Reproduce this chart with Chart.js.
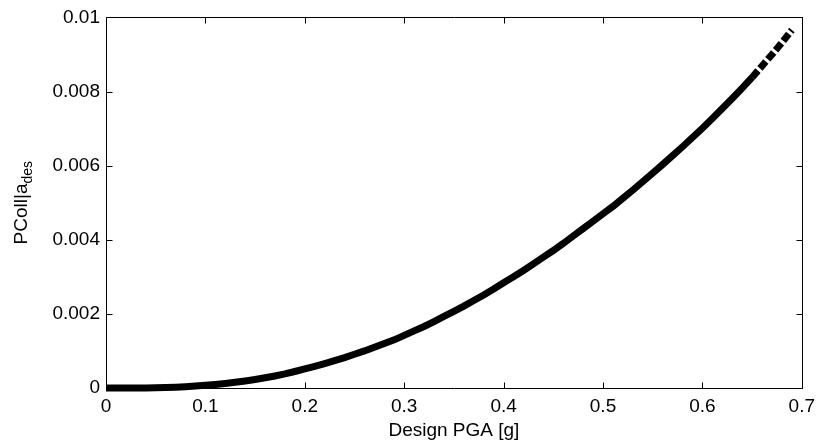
<!DOCTYPE html>
<html>
<head>
<meta charset="utf-8">
<script src="https://cdn.jsdelivr.net/npm/chart.js@4.4.0/dist/chart.umd.min.js"></script>
<style>
  html, body { margin: 0; padding: 0; background: #fff; }
  #wrap { width: 822px; height: 445px; }
</style>
</head>
<body>
<div id="wrap"><canvas id="myChart" width="822" height="445"></canvas></div>
<script>
// Design PGA [g] and collapse probability at each design level
const pga = [
  0.00, 0.01, 0.02, 0.03, 0.04, 0.05, 0.06, 0.07, 0.08, 0.09,
  0.10, 0.11, 0.12, 0.13, 0.14, 0.15, 0.16, 0.17, 0.18, 0.19,
  0.20, 0.21, 0.22, 0.23, 0.24, 0.25, 0.26, 0.27, 0.28, 0.29,
  0.30, 0.31, 0.32, 0.33, 0.34, 0.35, 0.36, 0.37, 0.38, 0.39,
  0.40, 0.41, 0.42, 0.43, 0.44, 0.45, 0.46, 0.47, 0.48, 0.49,
  0.50, 0.51, 0.52, 0.53, 0.54, 0.55, 0.56, 0.57, 0.58, 0.59,
  0.60, 0.61, 0.62, 0.63, 0.64, 0.65, 0.66, 0.67, 0.68, 0.69
];
const pcoll = [
  0, 0, 0, 0.000001, 0.000003, 0.000008, 0.000014, 0.000023, 0.000036, 0.000052,
  0.000072, 0.000095, 0.000122, 0.000154, 0.00019, 0.00023, 0.000275, 0.000325, 0.00038, 0.000445,
  0.000515, 0.000585, 0.00066, 0.00074, 0.00082, 0.00091, 0.001, 0.0011, 0.0012, 0.0013,
  0.00142, 0.00154, 0.00166, 0.00179, 0.00193, 0.00207, 0.00221, 0.00236, 0.00251, 0.00267,
  0.00284, 0.003, 0.00317, 0.00335, 0.00353, 0.00371, 0.0039, 0.0041, 0.0043, 0.0045,
  0.0047, 0.0049, 0.00512, 0.00534, 0.00557, 0.0058, 0.00603, 0.00627, 0.00651, 0.00676,
  0.00701, 0.00727, 0.00754, 0.00781, 0.00809, 0.00838, 0.00869, 0.009, 0.00932, 0.00966
];

const xTicks = [0, 0.1, 0.2, 0.3, 0.4, 0.5, 0.6, 0.7];
const xTickLabels = ['0', '0.1', '0.2', '0.3', '0.4', '0.5', '0.6', '0.7'];
const yTicks = [0, 0.002, 0.004, 0.006, 0.008, 0.01];
const yTickLabels = ['0', '0.002', '0.004', '0.006', '0.008', '0.01'];

const xTitle = 'Design PGA [g]';
const yTitle = 'PColl|a';
const yTitleSub = 'des';

// beyond this PGA the markers thin out into a dashed trace
const dashFrom = 0.645;

const FONT = '"Liberation Sans", Arial, sans-serif';
const TICK_LEN = 6;

// box around the axes, inward ticks on all four sides, axis titles
const framePlugin = {
  id: 'frame',
  afterDraw(chart) {
    const ctx = chart.ctx;
    const a = chart.chartArea;
    const xs = chart.scales.x;
    const ys = chart.scales.y;
    const L = Math.round(a.left) + 0.5;
    const R = Math.round(a.right) + 0.5;
    const T = Math.round(a.top) + 0.5;
    const B = Math.round(a.bottom) + 0.5;

    ctx.save();
    ctx.strokeStyle = '#000';
    ctx.lineWidth = 1;
    ctx.beginPath();
    ctx.rect(L, T, R - L, B - T);

    xTicks.forEach(v => {
      const px = Math.round(xs.getPixelForValue(v)) + 0.5;
      ctx.moveTo(px, B); ctx.lineTo(px, B - TICK_LEN);
      ctx.moveTo(px, T); ctx.lineTo(px, T + TICK_LEN);
    });
    yTicks.forEach(v => {
      const py = Math.round(ys.getPixelForValue(v)) + 0.5;
      ctx.moveTo(L, py); ctx.lineTo(L + TICK_LEN, py);
      ctx.moveTo(R, py); ctx.lineTo(R - TICK_LEN, py);
    });
    ctx.stroke();

    ctx.fillStyle = '#000';
    ctx.textAlign = 'center';
    ctx.textBaseline = 'alphabetic';
    ctx.font = '19px ' + FONT;
    ctx.fillText(xTitle, (a.left + a.right) / 2, 436);

    // rotated y title with subscript
    ctx.translate(27, (a.top + a.bottom) / 2);
    ctx.rotate(-Math.PI / 2);
    ctx.font = '19px ' + FONT;
    const w1 = ctx.measureText(yTitle).width;
    ctx.font = '14px ' + FONT;
    const w2 = ctx.measureText(yTitleSub).width;
    const start = -(w1 + w2) / 2;
    ctx.textAlign = 'left';
    ctx.font = '19px ' + FONT;
    ctx.fillText(yTitle, start, 0);
    ctx.font = '14px ' + FONT;
    ctx.fillText(yTitleSub, start + w1, 5);
    ctx.restore();
  }
};

const ctx = document.getElementById('myChart');

new Chart(ctx, {
  type: 'line',
  data: {
    datasets: [{
      data: pga.map((x, i) => ({ x: x, y: pcoll[i] })),
      borderColor: '#000',
      backgroundColor: '#000',
      borderWidth: 7,
      pointRadius: 0,
      tension: 0,
      clip: false,
      segment: {
        borderDash: c => c.p0.parsed.x >= dashFrom ? [9, 3] : undefined
      }
    }]
  },
  options: {
    responsive: false,
    animation: false,
    devicePixelRatio: 1,
    layout: { padding: { left: 0, right: 13, top: 16, bottom: 0 } },
    plugins: {
      legend: { display: false },
      tooltip: { enabled: false }
    },
    scales: {
      x: {
        type: 'linear',
        min: 0,
        max: 0.7,
        grid: { display: false, drawTicks: false },
        border: { display: false },
        afterBuildTicks: s => { s.ticks = xTicks.map(v => ({ value: v })); },
        afterFit: s => { s.height = 57; },
        ticks: {
          padding: 7,
          maxRotation: 0,
          color: '#000',
          font: { family: FONT, size: 19 },
          callback: (v, i) => xTickLabels[i]
        }
      },
      y: {
        type: 'linear',
        min: 0,
        max: 0.01,
        grid: { display: false, drawTicks: false },
        border: { display: false },
        afterBuildTicks: s => { s.ticks = yTicks.map(v => ({ value: v })); },
        afterFit: s => { s.width = 106; },
        ticks: {
          padding: 6,
          color: '#000',
          font: { family: FONT, size: 19 },
          callback: (v, i) => yTickLabels[i]
        }
      }
    }
  },
  plugins: [framePlugin]
});
</script>
</body>
</html>
